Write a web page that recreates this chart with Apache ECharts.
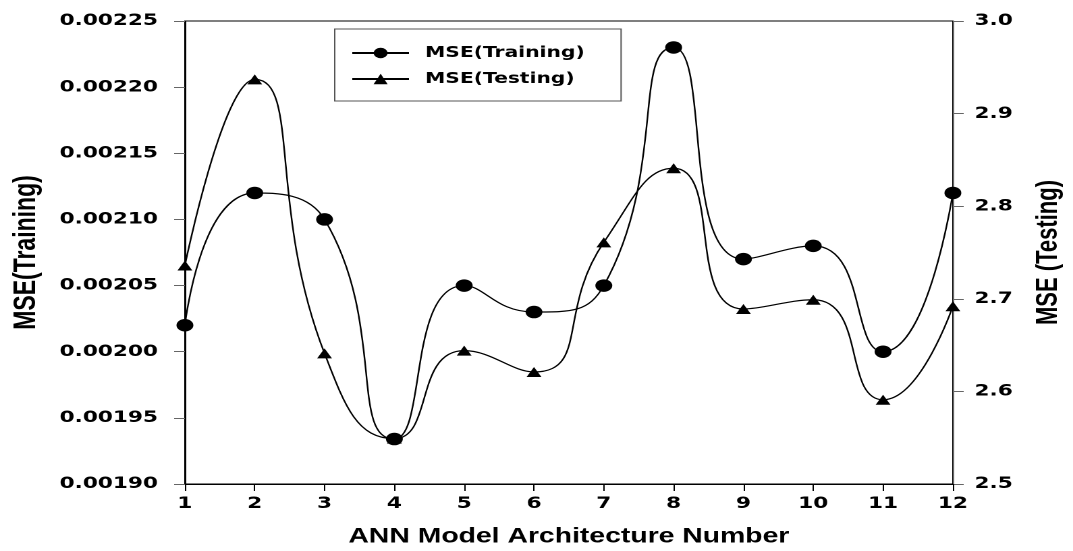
<!DOCTYPE html>
<html>
<head>
<meta charset="utf-8">
<script src="https://cdn.jsdelivr.net/npm/echarts@6/dist/echarts.min.js"></script>
<style>
html,body{margin:0;padding:0;background:#fff;overflow:hidden;width:1073px;height:551px;}
#main{width:795px;height:551px;transform:scaleX(1.3497);transform-origin:0 0;}
</style>
</head>
<body>
<div id="main"></div>
<script>
const categories = ['1','2','3','4','5','6','7','8','9','10','11','12'];
const trainingMSE = [0.00202, 0.00212, 0.00210, 0.001934, 0.00205, 0.00203, 0.00205, 0.00223, 0.00207, 0.00208, 0.00200, 0.00212];
const testingMSE = [2.736, 2.937, 2.641, 2.549, 2.644, 2.621, 2.761, 2.841, 2.689, 2.699, 2.591, 2.692];
const leftAxisName = 'MSE(Training)';
const rightAxisName = 'MSE (Testing)';
const xAxisName = 'ANN Model Architecture Number';

const HEAVY = 'DejaVu Sans, Arial, sans-serif';
const FONT = 'Liberation Sans, Arial, sans-serif';

const chart = echarts.init(document.getElementById('main'), null, {renderer: 'canvas', devicePixelRatio: 2});
chart.setOption({
  backgroundColor: '#fff',
  animation: false,
  grid: {left: 137, right: 89, top: 21, bottom: 67, show: true, borderColor: '#000', borderWidth: 1,
    containLabel: false, outerBoundsMode: 'none'},
  legend: {
    left: 248, top: 29,
    orient: 'vertical',
    padding: [15, 27, 13, 12],
    itemGap: 8,
    itemWidth: 42, itemHeight: 13,
    borderColor: '#555', borderWidth: 1, backgroundColor: '#fff',
    textStyle: {fontFamily: HEAVY, fontWeight: 'bold', fontSize: 15, color: '#000', lineHeight: 18, padding: [0, 0, 0, 7]},
    data: ['MSE(Training)', 'MSE(Testing)']
  },
  xAxis: {
    type: 'category', data: categories, boundaryGap: false,
    name: xAxisName, nameLocation: 'middle', nameGap: 42,
    nameTextStyle: {fontFamily: FONT, fontWeight: 'bold', fontSize: 21, color: '#000'},
    axisLine: {lineStyle: {color: '#000', width: 1}},
    axisTick: {show: true, inside: false, length: 7, lineStyle: {color: '#000'}},
    axisLabel: {fontFamily: HEAVY, fontWeight: 'bold', fontSize: 16, color: '#000', margin: 12},
    splitLine: {show: false}
  },
  yAxis: [
    {
      type: 'value', min: 0.0019, max: 0.00225, interval: 0.00005, position: 'left',
      name: leftAxisName, nameLocation: 'middle', nameGap: 106, nameRotate: 90,
      nameTextStyle: {fontFamily: FONT, fontWeight: 'bold', fontSize: 23, color: '#000'},
      axisLine: {show: true, lineStyle: {color: '#000', width: 1}},
      axisTick: {show: true, length: 8, lineStyle: {color: '#666'}},
      axisLabel: {fontFamily: HEAVY, fontWeight: 'bold', fontSize: 16, color: '#000', margin: 20,
        formatter: v => v.toFixed(5)},
      splitLine: {show: false}
    },
    {
      type: 'value', min: 2.5, max: 3.0, interval: 0.1, position: 'right',
      name: rightAxisName, nameLocation: 'middle', nameGap: 60, nameRotate: 90,
      nameTextStyle: {fontFamily: FONT, fontWeight: 'bold', fontSize: 22, color: '#000'},
      axisLine: {show: true, lineStyle: {color: '#666', width: 1}},
      axisTick: {show: true, length: 8, lineStyle: {color: '#666'}},
      axisLabel: {fontFamily: HEAVY, fontWeight: 'bold', fontSize: 16, color: '#000', margin: 16,
        formatter: v => v.toFixed(1)},
      splitLine: {show: false}
    }
  ],
  series: [
    {
      name: 'MSE(Training)', type: 'line', yAxisIndex: 0, data: trainingMSE,
      smooth: 0.55, symbol: 'circle', symbolSize: 12.5,
      lineStyle: {color: '#000', width: 1.2}, itemStyle: {color: '#000'}
    },
    {
      name: 'MSE(Testing)', type: 'line', yAxisIndex: 1, data: testingMSE,
      smooth: 0.55, symbol: 'triangle', symbolSize: [11, 10],
      lineStyle: {color: '#000', width: 1.2}, itemStyle: {color: '#000'}
    }
  ]
});
</script>
</body>
</html>
